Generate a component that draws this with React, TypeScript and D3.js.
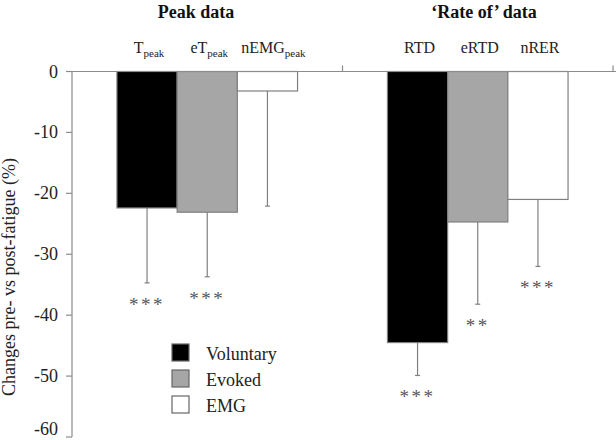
import React from "react";
import * as d3 from "d3";

// Groups along the x axis
const groups = ["Peak data", "\u2018Rate of\u2019 data"];

// Bar categories: label, subscript, group, series
const labels = ["T", "eT", "nEMG", "RTD", "eRTD", "nRER"];
const subscripts = ["peak", "peak", "peak", "", "", ""];
const barGroup = [0, 0, 0, 1, 1, 1];
const barSeries = [0, 1, 2, 0, 1, 2];

// Mean change (%) and SD
const means = [-22.4, -23.1, -3.2, -44.5, -24.7, -21.0];
const sds = [12.3, 10.6, 18.9, 5.4, 13.5, 11.0];
const significance = ["***", "***", "", "***", "**", "***"];

// Series (legend)
const seriesNames = ["Voluntary", "Evoked", "EMG"];
const seriesFill = ["#000000", "#a6a6a6", "#ffffff"];

const yTicks = [0, -10, -20, -30, -40, -50, -60];

const W = 616;
const H = 440;
const FONT = "'Liberation Serif', 'DejaVu Serif', serif";

export default function App() {
  const x0 = 72;
  const x1 = 613;
  const y = d3.scaleLinear().domain([0, -60]).range([71.5, 437]);
  const gx = d3.scaleBand<number>().domain([0, 1]).range([x0, x1]).paddingInner(0).paddingOuter(0);
  const barW = 60.2;
  const series = d3.scaleBand<number>().domain([0, 1, 2]).range([0, barW * 3]);
  const barX = (i: number) =>
    (gx(barGroup[i]) as number) + gx.bandwidth() / 2 - (barW * 3) / 2 + (series(barSeries[i]) as number);

  const axisColor = "#8c8c8c";

  return (
    <svg
      width={W}
      height={H}
      style={{ position: "absolute", left: 0, top: 0, background: "#fff", fontFamily: FONT }}
    >
      {/* group titles */}
      <text x={196} y={18} textAnchor="middle" fontSize={18} fontWeight="bold" fill="#111">
        {groups[0]}
      </text>
      <text x={484} y={18} textAnchor="middle" fontSize={18} fontWeight="bold" fill="#111">
        {groups[1]}
      </text>

      {/* bars */}
      {means.map((m, i) => (
        <rect
          key={"b" + i}
          x={barX(i)}
          y={y(0)}
          width={series.bandwidth()}
          height={y(m) - y(0)}
          fill={seriesFill[barSeries[i]]}
          stroke="#7f7f7f"
          strokeWidth={1.2}
        />
      ))}

      {/* error bars */}
      {means.map((m, i) => {
        const cx = barX(i) + series.bandwidth() / 2;
        return (
          <g key={"e" + i} stroke="#808080" strokeWidth={1.2}>
            <line x1={cx} x2={cx} y1={y(m)} y2={y(m - sds[i])} />
            <line x1={cx - 2.5} x2={cx + 2.5} y1={y(m - sds[i])} y2={y(m - sds[i])} />
          </g>
        );
      })}

      {/* significance markers */}
      {means.map((m, i) => {
        const cx = barX(i) + series.bandwidth() / 2;
        return significance[i] ? (
          <text
            key={"s" + i}
            x={cx}
            y={y(m - sds[i]) + 28}
            textAnchor="middle"
            fontSize={19}
            letterSpacing={2.5}
            fill="#555"
          >
            {significance[i]}
          </text>
        ) : null;
      })}

      {/* y axis */}
      <line x1={x0} x2={x0} y1={y(0)} y2={y(-60)} stroke={axisColor} strokeWidth={1.2} />
      {yTicks.map((t) => (
        <g key={"t" + t}>
          <line x1={x0 - 6} x2={x0} y1={y(t)} y2={y(t)} stroke={axisColor} strokeWidth={1.2} />
          <text x={x0 - 14} y={t === -60 ? y(t) - 2 : y(t) + 6} textAnchor="end" fontSize={18} fill="#222">
            {t}
          </text>
        </g>
      ))}

      {/* x axis at zero */}
      <line x1={x0} x2={616} y1={y(0)} y2={y(0)} stroke={axisColor} strokeWidth={1.2} />
      {[x0 + gx.bandwidth(), x1].map((tx, k) => (
        <line key={"gx" + k} x1={tx} x2={tx} y1={y(0) - 6} y2={y(0)} stroke={axisColor} strokeWidth={1.2} />
      ))}

      {/* category labels above the bars */}
      {labels.map((l, i) => {
        const cx = barX(i) + series.bandwidth() / 2;
        return (
          <text key={"l" + i} x={cx + (i === 2 ? 6 : 2)} y={53} textAnchor="middle" fontSize={16} fill="#222">
            {l}
            {subscripts[i] ? (
              <tspan fontSize={11} dy={4}>
                {subscripts[i]}
              </tspan>
            ) : null}
          </text>
        );
      })}

      {/* y axis title */}
      <text transform="translate(15 277) rotate(-90)" textAnchor="middle" fontSize={18} fill="#222">
        Changes pre- vs post-fatigue (%)
      </text>

      {/* legend */}
      {seriesNames.map((n, k) => (
        <g key={"lg" + k} transform={`translate(172,${344 + k * 26})`}>
          <rect x={0} y={0} width={17} height={17} fill={seriesFill[k]} stroke="#666" strokeWidth={1.2} />
          <text x={34} y={15.5} fontSize={18} fill="#222">
            {n}
          </text>
        </g>
      ))}
    </svg>
  );
}
